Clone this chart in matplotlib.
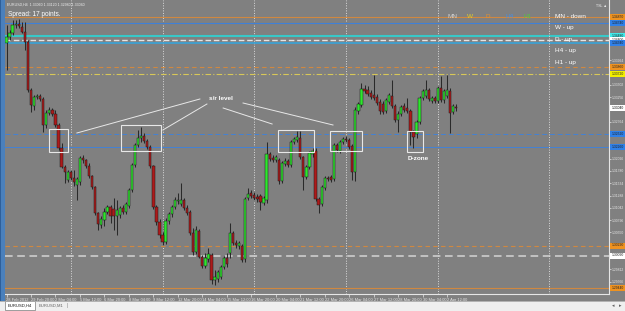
import matplotlib
matplotlib.use("Agg")
import matplotlib.pyplot as plt
from matplotlib.patches import Rectangle
import numpy as np

plt.rcParams['font.family'] = ['Liberation Sans', 'DejaVu Sans']

# ---------------- data (EURUSD, H4) ----------------
opens = [1.3434, 1.3446, 1.3454, 1.3470, 1.3472, 1.3466, 1.3456, 1.3436, 1.3340, 1.3308,
         1.3326, 1.3328, 1.3322, 1.3270, 1.3294, 1.3300, 1.3292, 1.3270, 1.3224, 1.3186,
         1.3160, 1.3176, 1.3164, 1.3150, 1.3156, 1.3204, 1.3200, 1.3188, 1.3168, 1.3146,
         1.3094, 1.3070, 1.3080, 1.3096, 1.3106, 1.3102, 1.3088, 1.3090, 1.3104, 1.3096,
         1.3108, 1.3140, 1.3190, 1.3230, 1.3244, 1.3248, 1.3238, 1.3226, 1.3188, 1.3106,
         1.3076, 1.3050, 1.3036, 1.3078, 1.3092, 1.3106, 1.3118, 1.3112, 1.3120, 1.3104,
         1.3096, 1.3054, 1.3016, 1.3058, 1.3006, 1.2988, 1.3002, 1.3010, 1.2960, 1.2962,
         1.2966, 1.2986, 1.3004, 1.3014, 1.3054, 1.3034, 1.3028, 1.3028, 1.3002, 1.3124,
         1.3134, 1.3130, 1.3126, 1.3128, 1.3114, 1.3120, 1.3212, 1.3204, 1.3200, 1.3200,
         1.3158, 1.3192, 1.3198, 1.3190, 1.3236, 1.3240, 1.3244, 1.3206, 1.3166, 1.3186,
         1.3212, 1.3218, 1.3122, 1.3112, 1.3144, 1.3164, 1.3166, 1.3162, 1.3230, 1.3218,
         1.3236, 1.3242, 1.3240, 1.3228, 1.3176, 1.3298, 1.3310, 1.3342, 1.3340, 1.3334,
         1.3330, 1.3326, 1.3316, 1.3312, 1.3298, 1.3316, 1.3328, 1.3308, 1.3280, 1.3292,
         1.3308, 1.3304, 1.3298, 1.3256, 1.3252, 1.3276, 1.3324, 1.3328, 1.3340, 1.3318,
         1.3324, 1.3318, 1.3344, 1.3320, 1.3328, 1.3338, 1.3296, 1.3306]
highs = [1.3470, 1.3460, 1.3480, 1.3480, 1.3482, 1.3476, 1.3476, 1.3440, 1.3344, 1.3330,
         1.3332, 1.3332, 1.3326, 1.3300, 1.3306, 1.3304, 1.3300, 1.3274, 1.3234, 1.3190,
         1.3180, 1.3180, 1.3180, 1.3166, 1.3208, 1.3210, 1.3202, 1.3194, 1.3170, 1.3148,
         1.3096, 1.3088, 1.3104, 1.3110, 1.3110, 1.3124, 1.3120, 1.3108, 1.3110, 1.3116,
         1.3144, 1.3194, 1.3234, 1.3260, 1.3266, 1.3254, 1.3242, 1.3230, 1.3190, 1.3110,
         1.3082, 1.3056, 1.3084, 1.3096, 1.3110, 1.3126, 1.3134, 1.3154, 1.3124, 1.3110,
         1.3100, 1.3064, 1.3068, 1.3062, 1.3010, 1.3014, 1.3024, 1.3014, 1.2980, 1.2980,
         1.2990, 1.3008, 1.3014, 1.3074, 1.3058, 1.3040, 1.3038, 1.3032, 1.3126, 1.3144,
         1.3140, 1.3136, 1.3132, 1.3132, 1.3128, 1.3236, 1.3216, 1.3210, 1.3210, 1.3204,
         1.3198, 1.3204, 1.3202, 1.3240, 1.3246, 1.3258, 1.3258, 1.3208, 1.3190, 1.3218,
         1.3224, 1.3224, 1.3126, 1.3150, 1.3168, 1.3168, 1.3170, 1.3234, 1.3234, 1.3240,
         1.3246, 1.3248, 1.3244, 1.3232, 1.3306, 1.3316, 1.3354, 1.3350, 1.3348, 1.3340,
         1.3370, 1.3332, 1.3322, 1.3318, 1.3324, 1.3334, 1.3360, 1.3312, 1.3298, 1.3310,
         1.3314, 1.3324, 1.3302, 1.3260, 1.3280, 1.3328, 1.3342, 1.3360, 1.3344, 1.3328,
         1.3328, 1.3348, 1.3368, 1.3342, 1.3370, 1.3344, 1.3312, 1.3312]
lows = [1.3380, 1.3440, 1.3450, 1.3464, 1.3464, 1.3454, 1.3420, 1.3336, 1.3296, 1.3300,
        1.3322, 1.3318, 1.3256, 1.3264, 1.3290, 1.3288, 1.3266, 1.3220, 1.3184, 1.3154,
        1.3156, 1.3160, 1.3148, 1.3120, 1.3150, 1.3194, 1.3184, 1.3164, 1.3142, 1.3090,
        1.3060, 1.3064, 1.3068, 1.3092, 1.3074, 1.3060, 1.3050, 1.3084, 1.3092, 1.3092,
        1.3104, 1.3136, 1.3186, 1.3226, 1.3236, 1.3234, 1.3222, 1.3184, 1.3102, 1.3070,
        1.3044, 1.3030, 1.3032, 1.3072, 1.3086, 1.3102, 1.3112, 1.3108, 1.3100, 1.3090,
        1.3050, 1.3010, 1.3012, 1.3004, 1.2984, 1.2984, 1.2996, 1.2952, 1.2950, 1.2956,
        1.2962, 1.2982, 1.2986, 1.3004, 1.3030, 1.3024, 1.3022, 1.2996, 1.2996, 1.3120,
        1.3124, 1.3120, 1.3116, 1.3100, 1.3110, 1.3114, 1.3198, 1.3196, 1.3196, 1.3152,
        1.3154, 1.3188, 1.3186, 1.3186, 1.3232, 1.3236, 1.3202, 1.3140, 1.3162, 1.3182,
        1.3206, 1.3118, 1.3094, 1.3108, 1.3140, 1.3158, 1.3156, 1.3158, 1.3216, 1.3214,
        1.3232, 1.3236, 1.3222, 1.3160, 1.3158, 1.3292, 1.3306, 1.3334, 1.3328, 1.3322,
        1.3320, 1.3310, 1.3292, 1.3292, 1.3294, 1.3312, 1.3304, 1.3276, 1.3256, 1.3288,
        1.3296, 1.3294, 1.3230, 1.3224, 1.3244, 1.3272, 1.3320, 1.3324, 1.3318, 1.3314,
        1.3314, 1.3314, 1.3316, 1.3314, 1.3324, 1.3254, 1.3292, 1.3298]
closes = [1.3446, 1.3454, 1.3470, 1.3472, 1.3468, 1.3456, 1.3436, 1.3340, 1.3310, 1.3326,
          1.3328, 1.3322, 1.3270, 1.3294, 1.3300, 1.3292, 1.3270, 1.3224, 1.3186, 1.3176,
          1.3176, 1.3164, 1.3156, 1.3162, 1.3204, 1.3200, 1.3188, 1.3168, 1.3146, 1.3094,
          1.3072, 1.3082, 1.3096, 1.3106, 1.3088, 1.3088, 1.3100, 1.3104, 1.3096, 1.3112,
          1.3140, 1.3190, 1.3230, 1.3244, 1.3248, 1.3238, 1.3226, 1.3188, 1.3106, 1.3076,
          1.3050, 1.3036, 1.3078, 1.3092, 1.3106, 1.3120, 1.3120, 1.3120, 1.3104, 1.3094,
          1.3054, 1.3016, 1.3060, 1.3006, 1.2988, 1.3004, 1.3012, 1.2960, 1.2966, 1.2976,
          1.2986, 1.3004, 1.2992, 1.3054, 1.3034, 1.3030, 1.3034, 1.3000, 1.3122, 1.3132,
          1.3128, 1.3124, 1.3122, 1.3116, 1.3124, 1.3212, 1.3202, 1.3200, 1.3206, 1.3158,
          1.3194, 1.3198, 1.3190, 1.3236, 1.3242, 1.3246, 1.3206, 1.3166, 1.3186, 1.3214,
          1.3218, 1.3122, 1.3110, 1.3146, 1.3164, 1.3162, 1.3160, 1.3230, 1.3220, 1.3236,
          1.3242, 1.3240, 1.3226, 1.3176, 1.3300, 1.3312, 1.3342, 1.3338, 1.3332, 1.3326,
          1.3324, 1.3314, 1.3298, 1.3296, 1.3320, 1.3330, 1.3308, 1.3280, 1.3292, 1.3306,
          1.3300, 1.3298, 1.3256, 1.3246, 1.3276, 1.3324, 1.3338, 1.3340, 1.3322, 1.3324,
          1.3318, 1.3344, 1.3320, 1.3338, 1.3340, 1.3294, 1.3308, 1.3304]

time_labels = ["28 Feb 2012", "29 Feb 20:00", "2 Mar 04:00", "5 Mar 12:00", "6 Mar 20:00",
               "8 Mar 04:00", "9 Mar 12:00", "12 Mar 20:00", "14 Mar 04:00", "15 Mar 12:00",
               "16 Mar 20:00", "20 Mar 04:00", "21 Mar 12:00", "22 Mar 20:00", "26 Mar 04:00",
               "27 Mar 12:00", "28 Mar 20:00", "30 Mar 04:00", "2 Apr 12:00"]
bars_per_label = 8
week_start_bars = [21, 51, 81, 111, 141]

price_ticks = [1.34978, 1.34732, 1.34486, 1.34240, 1.33994, 1.33748, 1.33502, 1.33256,
               1.33010, 1.32764, 1.32518, 1.32272, 1.32026, 1.31780, 1.31534, 1.31288,
               1.31042, 1.30796, 1.30550, 1.30304, 1.30058, 1.29812, 1.29566]

# horizontal levels: price, line colour, style, width, label colour
level_prices = [1.3487, 1.3474, 1.3448, 1.3440, 1.3434, 1.3386, 1.3372,
                1.3252, 1.3226, 1.3029, 1.3009, 1.2944]
level_colors = ['#d08840', '#3f80d8', '#38c8c8', '#e4e4e4', '#38a4d8', '#d08840', '#d8c858',
                '#4482d4', '#4482d4', '#d08840', '#d4d4d4', '#d08840']
level_styles = ['-', '-', '-', (0, (4, 2)), '-', (0, (4, 3)), (0, (5, 2, 1, 2)),
                (0, (5, 3)), '-', (0, (4, 3)), (0, (5, 3)), '-']
level_widths = [0.8, 0.8, 1.5, 1.0, 1.2, 0.8, 0.8, 0.7, 0.7, 0.8, 1.1, 0.8]
level_label_bg = ['#ee9220', '#2f80e8', '#40eaea', '#ffffff', '#2f80e8', '#ee9220', '#f2f000',
                  '#2f80e8', '#2f80e8', '#ee9220', '#ffffff', '#ee9220']

tf_names = ["MN", "W", "D", "H4", "H1"]
tf_colors = ['#cfcfcf', '#e8d020', '#e8902c', '#4a8ee0', '#56c83c']
tf_trend = ["down", "up", "up", "up", "up"]

# ---------------- layout ----------------
W, H = 625, 311
BG = '#808080'
chart_l, chart_r, chart_t, chart_b = 5, 609, 0, 294
bar_px, first_px = 3.06, 6.5
y_top, y_bot = 1.3520, 1.2932
AX_FS = 2.4

fig = plt.figure(figsize=(W / 100, H / 100), dpi=100, facecolor=BG)
ax = fig.add_axes([chart_l / W, 1 - chart_b / H, (chart_r - chart_l) / W, (chart_b - chart_t) / H])
ax.set_facecolor(BG)
ax.set_xlim((chart_l - first_px) / bar_px, (chart_r - first_px) / bar_px)
ax.set_ylim(y_bot, y_top)

o = np.array(opens); h = np.array(highs); l = np.array(lows); c = np.array(closes)
x = np.arange(len(c))
up = c >= o

# period separators
for wb in week_start_bars:
    ax.axvline(wb, color='#dcdcdc', lw=0.7, ls=(0, (1, 1.6)), zorder=1)

# levels
for p, col, st, lw in zip(level_prices, level_colors, level_styles, level_widths):
    ax.axhline(p, color=col, ls=st, lw=lw, zorder=2)

# candles
ax.vlines(x, l, h, color='#2a2a2a', lw=0.75, zorder=3)
ax.bar(x[up], (c - o)[up], bottom=o[up], width=0.74, color='#2ee62e',
       edgecolor='#1a1a1a', linewidth=0.35, zorder=4)
ax.bar(x[~up], (o - c)[~up], bottom=c[~up], width=0.74, color='#ad1a1a',
       edgecolor='#1a1a1a', linewidth=0.35, zorder=4)

# annotation boxes (bar index / price)
boxes = [(13.9, 20.1, 1.3216, 1.3262), (37.4, 50.5, 1.3218, 1.3270),
         (88.7, 100.5, 1.3216, 1.3260), (105.7, 116.2, 1.3218, 1.3258),
         (130.9, 136.1, 1.3216, 1.3258)]
for x0, x1, p0, p1 in boxes:
    ax.add_patch(Rectangle((x0, p0), x1 - x0, p1 - p0, fill=False, ec='#e8e8e8', lw=0.8, zorder=5))
leaders = [((23.0, 1.3254), (63.2, 1.3322)), ((51.1, 1.3260), (65.5, 1.3312)),
           ((70.8, 1.3304), (86.8, 1.3272)), ((77.3, 1.3314), (106.7, 1.3270))]
for (a0, b0), (a1, b1) in leaders:
    ax.plot([a0, a1], [b0, b1], color='#e8e8e8', lw=0.7, zorder=5)
ax.text(66.2, 1.3324, "s/r level", color='white', fontsize=4.6, fontweight='bold',
        va='center', ha='left', zorder=6)
ax.text(131.2, 1.3204, "D-zone", color='white', fontsize=4.6, fontweight='bold',
        va='center', ha='left', zorder=6)

# axes styling
for s in ['top', 'left']:
    ax.spines[s].set_visible(False)
for s in ['right', 'bottom']:
    ax.spines[s].set_color('#e6e6e6')
    ax.spines[s].set_linewidth(0.8)
ax.set_xticks(np.arange(len(time_labels)) * bars_per_label)
ax.set_xticklabels(time_labels)
for t in ax.get_xticklabels():
    t.set_ha('left')
ax.tick_params(axis='x', direction='out', length=2, width=0.5, colors='#e6e6e6',
               labelsize=2.9, pad=0.8)

# price scale: the terminal hides grid labels that sit under a coloured level label
marked = level_prices + [closes[-1]]
shown_ticks = [t for t in price_ticks if min(abs(t - m) for m in marked) > 0.0011]
ax.yaxis.tick_right()
ax.set_yticks(shown_ticks)
ax.set_yticklabels([f"{p:.5f}" for p in shown_ticks])
ax.tick_params(axis='y', direction='out', length=1.5, width=0.5, colors='#e6e6e6',
               labelsize=AX_FS, pad=0.6)

# coloured price labels on the axis
ytr = ax.get_yaxis_transform()
for p, bg in zip(level_prices, level_label_bg):
    ax.text(1.004, p, f"{p:.5f}", transform=ytr, fontsize=AX_FS, color='#202020',
            va='center', ha='left', clip_on=False, zorder=7,
            bbox=dict(boxstyle='square,pad=0.3', fc=bg, ec='none'))
ax.text(1.004, closes[-1], f"{closes[-1]:.5f}", transform=ytr, fontsize=AX_FS, color='#000000',
        va='center', ha='left', clip_on=False, zorder=7,
        bbox=dict(boxstyle='square,pad=0.3', fc='#ffffff', ec='none'))

# ---------------- pixel overlay (terminal decorations) ----------------
ov = fig.add_axes([0, 0, 1, 1], zorder=10)
ov.set_xlim(0, W); ov.set_ylim(H, 0); ov.axis('off'); ov.patch.set_alpha(0)

ov.add_patch(Rectangle((0, 0), 4.6, 301, fc='#4a80bc', ec='none'))
ov.add_patch(Rectangle((0, 0), 1.4, 301, fc='#2f5f99', ec='none'))
ov.add_patch(Rectangle((0, 301), W, 10, fc='#efefef', ec='none'))
ov.plot([0, W], [301, 301], color='#a8a8a8', lw=0.6)
ov.add_patch(Rectangle((5, 301.3), 30, 8.6, fc='white', ec='#7a7a7a', lw=0.5))
ov.text(20, 305.6, "EURUSD,H4", fontsize=3.0, color='#101010', ha='center', va='center')
ov.text(51, 305.6, "EURUSD,M1", fontsize=3.0, color='#606060', ha='center', va='center')
ov.text(67, 305.6, "|", fontsize=3.4, color='#808080', ha='center', va='center')
ov.text(613, 305.6, "◂", fontsize=3.6, color='#606060', ha='center', va='center')
ov.text(620, 305.6, "▸", fontsize=3.6, color='#606060', ha='center', va='center')

ov.plot([549, 549], [0, 294], color='#dcdcdc', lw=0.7, ls=(0, (1, 1.6)))

ov.text(7, 5, f"EURUSD,H4  {opens[-1]:.5f} {highs[-1]:.5f} {lows[-1]:.5f} {closes[-1]:.5f}",
        fontsize=2.6, color='#f0f0f0', ha='left', va='center')
ov.text(8, 15, "Spread: 17 points.", fontsize=4.7, color='white', ha='left', va='center')
ov.text(596, 6, "TSL ▲", fontsize=2.6, color='#f0f0f0', ha='left', va='center')

tf_x = [447, 467, 486, 505, 524]
for name, col, xx in zip(tf_names, tf_colors, tf_x):
    ov.text(xx, 16.5, name, fontsize=4.6, color=col, ha='left', va='center')
for k, (name, tr) in enumerate(zip(tf_names, tf_trend)):
    ov.text(555, 16.5 + 11.4 * k, f"{name} - {tr}", fontsize=4.6, color='white',
            ha='left', va='center')

fig.savefig("out.png", dpi=100, facecolor=BG)
